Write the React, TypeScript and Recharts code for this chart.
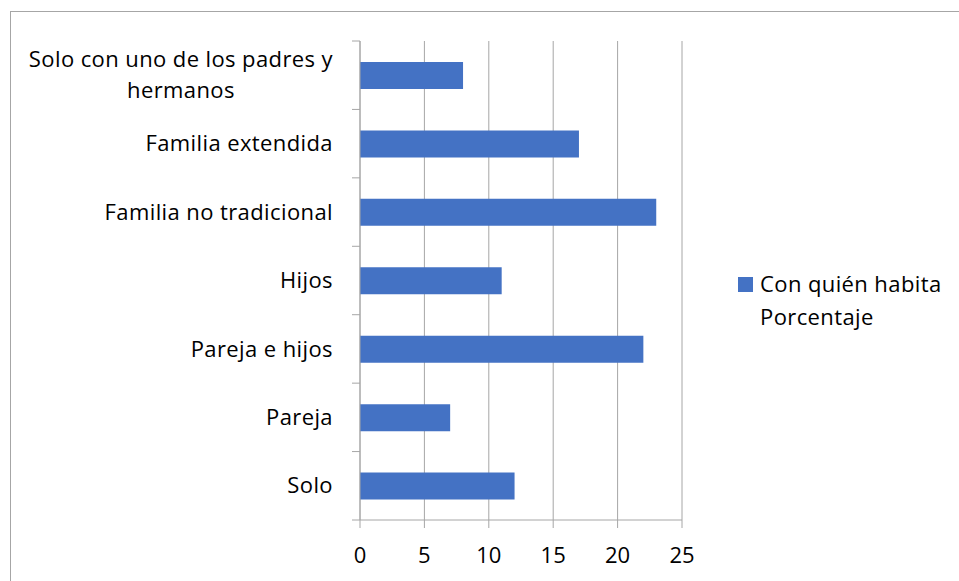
import { BarChart, Bar, XAxis, YAxis, CartesianGrid } from 'recharts'

const categories = [
    'Solo con uno de los padres y hermanos',
    'Familia extendida',
    'Familia no tradicional',
    'Hijos',
    'Pareja e hijos',
    'Pareja',
    'Solo',
]
const porcentaje = [8, 17, 23, 11, 22, 7, 12]
const xTicks = [0, 5, 10, 15, 20, 25]
const seriesName = 'Con quién habita Porcentaje'

const data = categories.map((name, i) => ({ name, value: porcentaje[i] }))

const FONT = '"Open Sans", sans-serif'
const FONT_SIZE = 22
const SPACING = 0.4
const GRID = '#a6a6a6'
const BAR = '#4472c4'

const W = 959
const H = 581
const PLOT_TOP = 41
const PLOT_BOTTOM = 520
const PLOT_LEFT = 360
const PLOT_RIGHT = 682

// wrap long labels the way excel does (max width of the label area)
const measure = (text: string) => {
    const ctx = document.createElement('canvas').getContext('2d')
    if (!ctx) return text.length * 10
    ctx.font = `${FONT_SIZE}px ${FONT}`
    return ctx.measureText(text).width + text.length * SPACING
}

const wrap = (text: string, maxW: number) => {
    const words = text.split(' ')
    const lines: string[] = []
    let cur = ''
    words.forEach((w) => {
        const next = cur ? cur + ' ' + w : w
        if (cur && measure(next) > maxW) {
            lines.push(cur)
            cur = w
        } else {
            cur = next
        }
    })
    if (cur) lines.push(cur)
    return lines
}

const CategoryTick = (props: any) => {
    const { x, y, payload, index } = props
    const band = (PLOT_BOTTOM - PLOT_TOP) / categories.length
    const lines = wrap(payload.value, 330)
    const right = x - 19
    const widest = Math.max(...lines.map(measure))
    const lineH = 31
    const startY = y - ((lines.length - 1) * lineH) / 2
    return (
        <g>
            <line x1={PLOT_LEFT - 8} x2={PLOT_LEFT} y1={y - band / 2} y2={y - band / 2} stroke={GRID} />
            {index === categories.length - 1 && (
                <line x1={PLOT_LEFT - 8} x2={PLOT_LEFT} y1={y + band / 2} y2={y + band / 2} stroke={GRID} />
            )}
            {lines.map((l, i) => (
                <text
                    key={i}
                    x={lines.length > 1 ? right - widest / 2 : right}
                    y={startY + i * lineH}
                    dy="0.35em"
                    textAnchor={lines.length > 1 ? 'middle' : 'end'}
                    fill="#000"
                    fontSize={FONT_SIZE}
                    fontFamily={FONT}
                    letterSpacing={SPACING}
                >
                    {l}
                </text>
            ))}
        </g>
    )
}

export default function App() {
    return (
        <div style={{ position: 'absolute', left: 0, top: 0, width: W, height: H, background: '#fff', overflow: 'hidden' }}>
            <div style={{ position: 'absolute', left: 10, top: 11, width: 980, height: 600, border: '1px solid #a6a6a6' }} />
            <div style={{ position: 'absolute', left: 0, top: 0 }}>
                <BarChart
                    width={W}
                    height={H}
                    data={data}
                    layout="vertical"
                    margin={{ top: PLOT_TOP, right: W - PLOT_RIGHT, left: 0, bottom: 0 }}
                    barCategoryGap={0}
                >
                    <CartesianGrid horizontal={false} stroke={GRID} strokeWidth={1} />
                    <XAxis
                        type="number"
                        domain={[0, 25]}
                        ticks={xTicks}
                        interval={0}
                        height={H - PLOT_BOTTOM}
                        stroke={GRID}
                        tickSize={8}
                        tickMargin={19}
                        tick={{ fill: '#000', fontSize: FONT_SIZE, fontFamily: FONT }}
                    />
                    <YAxis
                        type="category"
                        dataKey="name"
                        width={PLOT_LEFT}
                        stroke={GRID}
                        tickLine={false}
                        interval={0}
                        tick={<CategoryTick />}
                    />
                    <Bar dataKey="value" name={seriesName} fill={BAR} barSize={27} isAnimationActive={false} />
                </BarChart>
            </div>
            {/* legend */}
            <div
                style={{
                    position: 'absolute',
                    left: 738,
                    top: 267,
                    display: 'flex',
                    alignItems: 'flex-start',
                    fontFamily: FONT,
                    fontSize: FONT_SIZE,
                    letterSpacing: SPACING,
                    color: '#000',
                }}
            >
                <div style={{ width: 15, height: 15, background: BAR, marginTop: 10, marginRight: 7 }} />
                <div style={{ lineHeight: '33px', width: 215 }}>
                    Con quién habita
                    <br />
                    Porcentaje
                </div>
            </div>
        </div>
    )
}
